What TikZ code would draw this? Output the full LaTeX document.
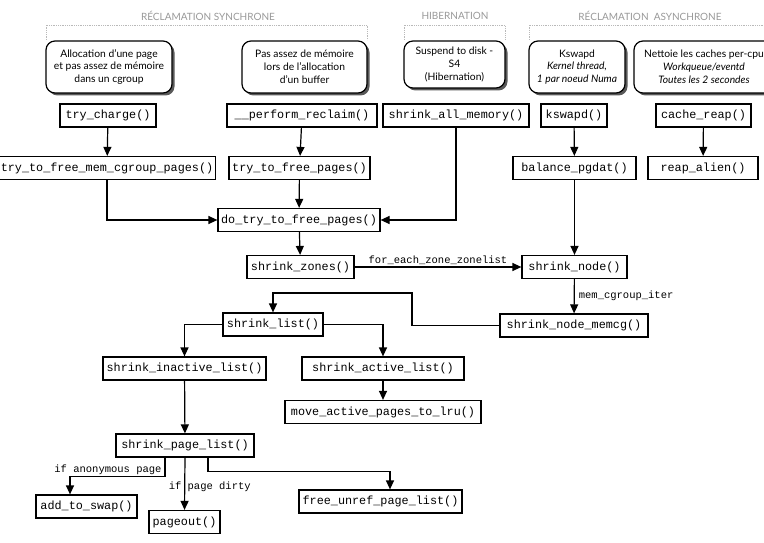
\documentclass[tikz,border=0pt]{standalone}
\usepackage{fontspec}
\setmainfont{Lato}
\newfontfamily\codefont{Liberation Mono}
\usetikzlibrary{arrows.meta,shadows}

\tikzset{
  fn/.style={draw,line width=1.2pt,fill=white,inner sep=2pt,minimum height=23pt,font=\codefont\fontsize{11.8}{12}\selectfont},
  desc/.style={draw,line width=1.2pt,fill=white,rounded corners=9pt,align=center,font=\fontsize{10.3}{12.8}\selectfont,drop shadow={shadow xshift=2.5pt,shadow yshift=-2.5pt,fill=black!65,opacity=1}},
  call/.style={line width=1.2pt,-{Triangle[length=9pt,width=8pt]}},
  lbl/.style={font=\codefont\fontsize{10.5}{11}\selectfont,inner sep=1.5pt},
  group/.style={gray!55,densely dotted,line width=0.8pt},
  grouplabel/.style={text=gray!80,font=\fontsize{10}{11}\selectfont},
}

\begin{document}
\begin{tikzpicture}[x=1pt,y=-1pt]
  \useasboundingbox[fill=white] (0,0) rectangle (764,543);

  \node[grouplabel] (sync) at (208,16) {RÉCLAMATION SYNCHRONE};
  \node[grouplabel] (hib) at (455,16) {HIBERNATION};
  \node[grouplabel] (async) at (650,16) {RÉCLAMATION\ \ ASYNCHRONE};
  \draw[group] (46,40) -- (46,25) -- (367,25) -- (367,40);
  \draw[group] (404,40) -- (404,25) -- (505,25) -- (505,40);
  \draw[group] (529,40) -- (529,25) -- (770,25);

  \node[desc,minimum width=126,minimum height=52] (alloc) at (109,67) {Allocation d'une page\\et pas assez de mémoire\\dans un cgroup};
  \node[desc,minimum width=125,minimum height=52] (buffer) at (304.5,67) {Pas assez de mémoire\\lors de l'allocation\\d'un buffer};
  \node[desc,minimum width=101,minimum height=47] (suspend) at (454.5,64.5) {Suspend to disk -\\S4\\(Hibernation)};
  \node[desc,minimum width=96,minimum height=52] (kthread) at (577,67) {Kswapd\\\itshape Kernel thread,\\\itshape 1 par noeud Numa};
  \node[desc,minimum width=140,minimum height=52] (percpu) at (704,67) {Nettoie les caches per-cpu\\\itshape Workqueue/eventd\\\itshape Toutes les 2 secondes};

  \node[fn,minimum width=96] (charge) at (108,115.5) {try\_charge()};
  \node[fn,minimum width=150] (perform) at (302,115.5) {\_\_perform\_reclaim()};
  \node[fn,minimum width=146] (allmem) at (456,115.5) {shrink\_all\_memory()};
  \node[fn,minimum width=66] (kswapd) at (574,115.5) {kswapd()};
  \node[fn,minimum width=95] (reap) at (703.5,115.5) {cache\_reap()};

  \node[fn,minimum width=216] (cgpages) at (107,168) {try\_to\_free\_mem\_cgroup\_pages()};
  \node[fn,minimum width=141] (freepages) at (299.5,168) {try\_to\_free\_pages()};
  \node[fn,minimum width=123] (balance) at (574.5,168) {balance\_pgdat()};
  \node[fn,minimum width=110] (alien) at (703,168) {reap\_alien()};

  \node[fn,minimum width=162] (dotry) at (299,220) {do\_try\_to\_free\_pages()};
  \node[fn,minimum width=107] (zones) at (300.5,267) {shrink\_zones()};
  \node[fn,minimum width=105] (snode) at (574.5,267) {shrink\_node()};
  \node[fn,minimum width=148] (memcg) at (574,325.5) {shrink\_node\_memcg()};
  \node[fn,minimum width=100] (slist) at (273,324.5) {shrink\_list()};
  \node[fn,minimum width=163] (inactive) at (184.5,368.5) {shrink\_inactive\_list()};
  \node[fn,minimum width=162] (active) at (383,368.5) {shrink\_active\_list()};
  \node[fn,minimum width=196] (tolru) at (383,412) {move\_active\_pages\_to\_lru()};
  \node[fn,minimum width=138] (pagelist) at (185,445.5) {shrink\_page\_list()};
  \node[fn,minimum width=101] (swap) at (86.5,506.5) {add\_to\_swap()};
  \node[fn,minimum width=71] (pageout) at (184.5,522) {pageout()};
  \node[fn,minimum width=163] (unref) at (380.5,501.5) {free\_unref\_page\_list()};

  \coordinate (back) at (412,293);

  \draw[call] (charge) -- (cgpages);
  \draw[call] (perform) -- (freepages);
  \draw[call] (kswapd) -- (balance);
  \draw[call] (reap) -- (alien);
  \draw[call] (cgpages.south) |- (dotry.west);
  \draw[call] (freepages) -- (dotry);
  \draw[call] (allmem.south) |- (dotry.east);
  \draw[call] (dotry) -- (zones);
  \draw[call] (balance) -- (snode);
  \draw[call] (zones) -- node[lbl,above] {for\_each\_zone\_zonelist} (snode);
  \draw[call] (snode) -- node[lbl,right,inner sep=4pt] {mem\_cgroup\_iter} (memcg);
  \draw[call] (memcg.west) -| (back) -| (slist.north);
  \draw[call] (slist.west) -| (inactive.north);
  \draw[call] (slist.east) -| (active.north);
  \draw[call] (active) -- (tolru);
  \draw[call] (inactive) -- (pagelist);
  \draw[call] ([xshift=-20pt]pagelist.south) -- ++(0,19) -| node[lbl,pos=0.3,above] {if anonymous page} ([xshift=-16.5pt]swap.north);
  \draw[call] (pagelist.south) -- node[lbl,xshift=25pt,yshift=-3pt] {if page dirty} (pageout.north);
  \draw[call] ([xshift=23pt]pagelist.south) -- ++(0,14) -| ([xshift=9.5pt]unref.north);
\end{tikzpicture}
\end{document}
